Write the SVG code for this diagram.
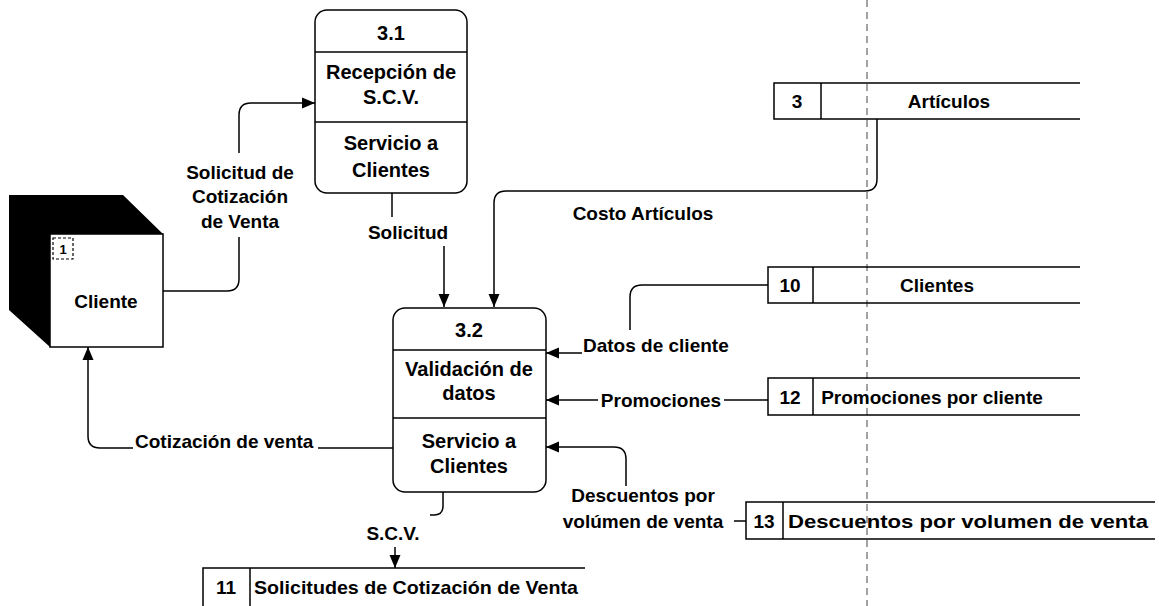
<svg xmlns="http://www.w3.org/2000/svg" width="1159" height="606" viewBox="0 0 1159 606">
<defs>
<marker id="arr" markerUnits="userSpaceOnUse" markerWidth="14" markerHeight="14" viewBox="0 0 14 14" refX="13" refY="7" orient="auto">
<path d="M0,1.5 L13,7 L0,12.5 Z" fill="#000"/>
</marker>
</defs>
<style>
text{font-family:"Liberation Sans",Arial,sans-serif;font-size:19px;font-weight:bold;fill:#000}
.c{text-anchor:middle}
.pt{font-size:20px}
.box{fill:#fff;stroke:#000;stroke-width:1.5}
.ln{fill:none;stroke:#000;stroke-width:1.5}
.flow{fill:none;stroke:#000;stroke-width:1.5}
.ar{marker-end:url(#arr)}
</style>
<rect width="1159" height="606" fill="#fff"/>
<line x1="867" y1="0" x2="867" y2="606" stroke="#444" stroke-width="1" stroke-dasharray="7,5"/>

<g id="cliente">
<polygon points="9,195 123,195 163,234 50,234 50,347 9,310" fill="#000"/>
<rect class="box" x="50" y="234" width="113" height="113"/>
<rect x="53" y="238" width="20" height="21" fill="none" stroke="#000" stroke-width="1.2" stroke-dasharray="3,2"/>
<text class="c" x="63" y="254" style="font-size:13px">1</text>
<text class="c" x="106" y="308">Cliente</text>
</g>

<g id="p31">
<rect class="box" x="315" y="10" width="152" height="183" rx="12"/>
<line class="ln" x1="315" y1="52" x2="467" y2="52"/>
<line class="ln" x1="315" y1="122" x2="467" y2="122"/>
<text class="c pt" x="391" y="40">3.1</text>
<text class="c pt" x="391" y="79">Recepción de</text>
<text class="c pt" x="391" y="104">S.C.V.</text>
<text class="c pt" x="391" y="150">Servicio a</text>
<text class="c pt" x="391" y="177">Clientes</text>
</g>

<g id="p32">
<rect class="box" x="393" y="308" width="153" height="184" rx="12"/>
<line class="ln" x1="393" y1="350" x2="546" y2="350"/>
<line class="ln" x1="393" y1="418" x2="546" y2="418"/>
<text class="c pt" x="469" y="337">3.2</text>
<text class="c pt" x="469" y="376">Validación de</text>
<text class="c pt" x="469" y="400">datos</text>
<text class="c pt" x="469" y="448">Servicio a</text>
<text class="c pt" x="469" y="473">Clientes</text>
</g>

<g id="ds3">
<path class="ln" d="M1080,83 H774 V119 H1080"/>
<line class="ln" x1="821" y1="83" x2="821" y2="119"/>
<text class="c" x="797" y="108">3</text>
<text class="c" x="949" y="108">Artículos</text>
</g>

<g id="ds10">
<path class="ln" d="M1080,267 H768 V303 H1080"/>
<line class="ln" x1="813" y1="267" x2="813" y2="303"/>
<text class="c" x="790" y="292">10</text>
<text class="c" x="937" y="292">Clientes</text>
</g>

<g id="ds12">
<path class="ln" d="M1080,378 H768 V415 H1080"/>
<line class="ln" x1="813" y1="378" x2="813" y2="415"/>
<text class="c" x="790" y="404">12</text>
<text class="c" x="932" y="404">Promociones por cliente</text>
</g>

<g id="ds13">
<path class="ln" d="M1155,502 H746 V539 H1155"/>
<line class="ln" x1="783" y1="502" x2="783" y2="539"/>
<text class="c" x="764" y="528">13</text>
<text x="788" y="528" textLength="360" lengthAdjust="spacingAndGlyphs">Descuentos por volumen de venta</text>
</g>

<g id="ds11">
<path class="ln" d="M585,568 H203 V606"/>
<line class="ln" x1="250" y1="568" x2="250" y2="606"/>
<text class="c" x="226" y="594">11</text>
<text x="254" y="594" textLength="324" lengthAdjust="spacingAndGlyphs">Solicitudes de Cotización de Venta</text>
</g>

<g id="connectors">
<path class="flow" d="M163,291 H227 Q239,291 239,279 V237"/>
<path class="flow ar" d="M239,153 V115 Q239,103 251,103 H315"/>
<path class="flow" d="M392,193 V217"/>
<path class="flow ar" d="M444,246 V307"/>
<path class="flow ar" d="M877,119 V179 Q877,191 865,191 H506 Q494,191 494,203 V307"/>
<path class="flow" d="M768,285 H642 Q630,285 630,297 V330"/>
<path class="flow ar" d="M582,353 H546"/>
<path class="flow" d="M768,400 H724"/>
<path class="flow ar" d="M598,400 H546"/>
<path class="flow" d="M746,521 H734"/>
<path class="flow ar" d="M626,486 V459 Q626,447 614,447 H546"/>
<path class="flow" d="M393,448 H318"/>
<path class="flow ar" d="M133,448 H100 Q88,448 88,436 V347"/>
<path class="flow" d="M443,492 V506 Q443,515 434,515 H430"/>
<path class="flow ar" d="M395,547 V568"/>
<text class="c" x="240" y="179">Solicitud de</text>
<text class="c" x="240" y="203">Cotización</text>
<text class="c" x="240" y="228">de Venta</text>
<text class="c" x="408" y="239">Solicitud</text>
<text class="c" x="643" y="220">Costo Artículos</text>
<text x="583" y="352">Datos de cliente</text>
<text class="c" x="661" y="407">Promociones</text>
<text class="c" x="643" y="502">Descuentos por</text>
<text class="c" x="643" y="528">volúmen de venta</text>
<text x="135" y="448">Cotización de venta</text>
<text class="c" x="393" y="540">S.C.V.</text>
</g>
</svg>
